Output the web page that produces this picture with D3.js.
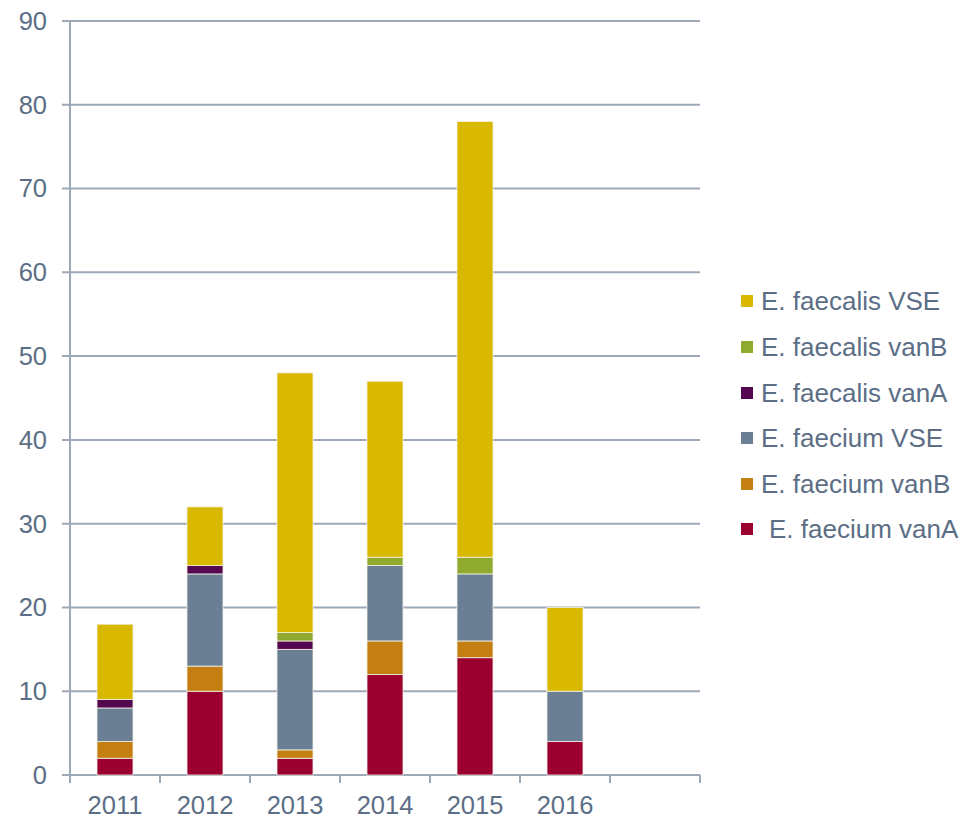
<!DOCTYPE html>
<html><head><meta charset="utf-8">
<script src="https://cdn.jsdelivr.net/npm/d3@7"></script>
<style>body{margin:0;background:#fff;} text{font-family:"Liberation Sans",Arial,sans-serif;}</style>
</head><body><svg id="c" width="963" height="821"></svg>
<script>
const categories = ["2011","2012","2013","2014","2015","2016",""];
const seriesNames = ["E. faecium vanA","E. faecium vanB","E. faecium VSE","E. faecalis vanA","E. faecalis vanB","E. faecalis VSE"];
const faeciumVanA  = [2,10,2,12,14,4,0];
const faeciumVanB  = [2,3,1,4,2,0,0];
const faeciumVSE   = [4,11,12,9,8,6,0];
const faecalisVanA = [1,1,1,0,0,0,0];
const faecalisVanB = [0,0,1,1,2,0,0];
const faecalisVSE  = [9,7,31,21,52,10,0];
const yTicks = [0,10,20,30,40,50,60,70,80,90];
const colors = ["#9b0030","#c47f12","#6a7f94","#55074f","#8faa2e","#d9b800"];

const seriesVals = [faeciumVanA,faeciumVanB,faeciumVSE,faecalisVanA,faecalisVanB,faecalisVSE];
const rows = categories.map((c,i)=>{const r={cat:c};seriesNames.forEach((s,j)=>r[s]=seriesVals[j][i]);return r;});
const stack = d3.stack().keys(seriesNames)(rows);

const svg = d3.select("#c");
const L=70,R=700,T=21,B=775;
const x = d3.scaleBand().domain(d3.range(categories.length)).range([L,R]);
const y = d3.scaleLinear().domain([0,90]).range([B,T]);
const axisCol="#9ea9b8", txtCol="#5b6e86";
const fs = 25.5;

svg.append("g").selectAll("line").data(yTicks).join("line")
  .attr("x1",L-8).attr("x2",R).attr("y1",d=>y(d)).attr("y2",d=>y(d))
  .attr("stroke",axisCol).attr("stroke-width",2);
svg.append("line").attr("x1",L).attr("x2",L).attr("y1",T).attr("y2",B+8).attr("stroke",axisCol).attr("stroke-width",2);
svg.append("g").selectAll("line").data(d3.range(categories.length+1)).join("line")
  .attr("x1",d=>L+d*x.step()).attr("x2",d=>L+d*x.step()).attr("y1",B).attr("y2",B+8)
  .attr("stroke",axisCol).attr("stroke-width",2);
svg.append("g").selectAll("text").data(yTicks).join("text")
  .attr("x",L-23).attr("y",d=>y(d)).attr("dy","0.35em").attr("text-anchor","end")
  .attr("font-size",fs).attr("fill",txtCol).text(d=>d);
svg.append("g").selectAll("text").data(categories).join("text")
  .attr("x",(d,i)=>x(i)+x.bandwidth()/2).attr("y",B+39).attr("text-anchor","middle")
  .attr("font-size",fs).attr("fill",txtCol).text(d=>d);

const bw = 36;
svg.append("g").selectAll("g").data(stack).join("g").attr("fill",(d,i)=>colors[i])
  .selectAll("rect").data(d=>d.filter(v=>v[1]-v[0]>0).map(v=>({v,i:d.indexOf(v)}))).join("rect")
  .attr("x",d=>x(d.i)+x.bandwidth()/2-bw/2).attr("width",bw)
  .attr("y",d=>y(d.v[1])).attr("height",d=>y(d.v[0])-y(d.v[1]))
  .attr("stroke","#f3f0e6").attr("stroke-width",0.8);

const legY=[301,347,393,438,484,529];
const leg = svg.append("g").selectAll("g").data(seriesNames.slice().reverse()).join("g")
  .attr("transform",(d,i)=>`translate(741,${legY[i]})`);
leg.append("rect").attr("x",0).attr("y",-6).attr("width",12).attr("height",12)
  .attr("fill",(d,i)=>colors[colors.length-1-i]);
leg.append("text").attr("x",(d,i)=>i===5?28:20).attr("y",0).attr("dy","0.35em")
  .attr("font-size",26).attr("fill",txtCol).text(d=>d);
</script></body></html>
